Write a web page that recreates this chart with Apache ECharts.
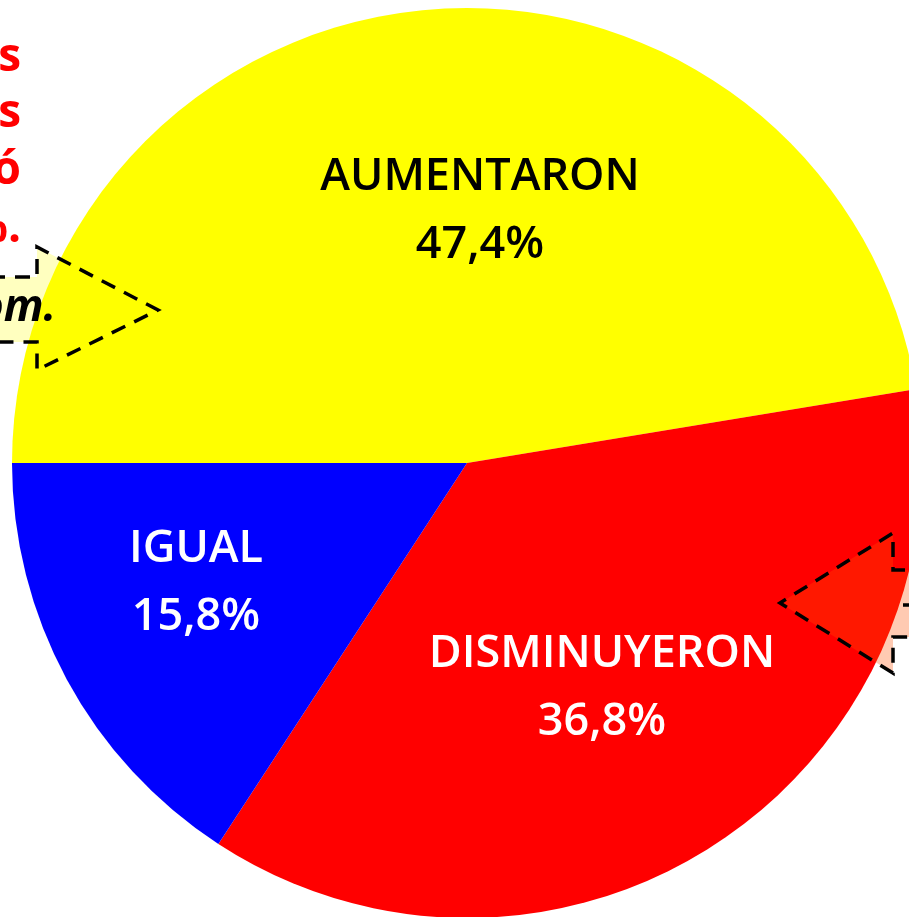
<!DOCTYPE html>
<html lang="es">
<head>
    <meta charset="UTF-8">
    <script src="https://cdn.jsdelivr.net/npm/echarts@6/dist/echarts.min.js"></script>
    <title>Pie</title>
    <style>
        html, body {margin: 0; padding: 0; background: #fff;}
        #ec {width: 909px; height: 917px;}
    </style>
</head>
<body>
<div id="ec"></div>
<script>
    // datos
    var categorias = ['AUMENTARON', 'DISMINUYERON', 'IGUAL'];
    var porcentajes = [47.4, 36.8, 15.8];
    var colores = ['#ffff00', '#ff0000', '#0000ff'];
    var colorTexto = ['#000000', '#ffffff', '#ffffff'];
    // posicion de las etiquetas (centro del bloque)
    var posEtiquetas = [[480, 211], [602, 688], [196, 583]];

    var myChart = echarts.init(document.getElementById('ec'));

    var datos = categorias.map(function (c, i) {
        return {
            name: c,
            value: porcentajes[i],
            itemStyle: {color: colores[i]},
            label: {color: colorTexto[i]}
        };
    });

    function fmt(v) {
        return v.toFixed(1).replace('.', ',') + '%';
    }

    var dash = [15, 10];
    var fuenteRoja = 'bold 46px "Open Sans"';

    myChart.setOption({
        animation: false,
        backgroundColor: '#ffffff',
        series: [{
            type: 'pie',
            center: [467, 463],
            radius: 455,
            startAngle: 180,
            clockwise: true,
            silent: true,
            itemStyle: {borderWidth: 0},
            label: {
                show: true,
                position: 'inside',
                fontFamily: 'Open Sans',
                fontWeight: 600,
                fontSize: 45,
                lineHeight: 68,
                formatter: function (p) {
                    return p.name + '\n' + fmt(p.value);
                }
            },
            labelLine: {show: false},
            labelLayout: function (p) {
                var pos = posEtiquetas[p.dataIndex];
                return {x: pos[0], y: pos[1], align: 'center', verticalAlign: 'middle'};
            },
            data: datos
        }],
        graphic: [
            // texto rojo recortado a la izquierda
            {type: 'text', z: 100, style: {text: 's', x: 21, y: 35, align: 'right', verticalAlign: 'top', fill: '#ff0000', font: fuenteRoja}},
            {type: 'text', z: 100, style: {text: 's', x: 21, y: 91, align: 'right', verticalAlign: 'top', fill: '#ff0000', font: fuenteRoja}},
            {type: 'text', z: 100, style: {text: 'ó', x: 21, y: 148, align: 'right', verticalAlign: 'top', fill: '#ff0000', font: fuenteRoja}},
            {type: 'text', z: 100, style: {text: '%.', x: 21, y: 206, align: 'right', verticalAlign: 'top', fill: '#ff0000', font: fuenteRoja}},
            // flecha izquierda
            {
                type: 'polygon', z: 100,
                shape: {points: [[-10, 277], [37, 277], [37, 247], [158, 310], [37, 370], [37, 342], [-10, 342]]},
                style: {fill: 'rgba(255,255,0,0.25)', stroke: '#000', lineWidth: 3.5, lineDash: dash}
            },
            {type: 'text', z: 101, style: {text: 'om.', x: 56, y: 286, align: 'right', verticalAlign: 'top', fill: '#000', font: 'italic bold 44px "Open Sans"'}},
            // flecha derecha
            {
                type: 'polygon', z: 100,
                shape: {points: [[930, 570], [893, 570], [893, 533], [780, 603], [893, 673], [893, 637], [930, 637]]},
                style: {fill: 'rgba(255,80,0,0.3)', stroke: '#000', lineWidth: 3.5, lineDash: dash}
            },
            {
                type: 'line', z: 100,
                shape: {x1: 903, y1: 605, x2: 930, y2: 605},
                style: {stroke: '#000', lineWidth: 3.5, lineDash: dash}
            }
        ]
    });
</script>
</body>
</html>
